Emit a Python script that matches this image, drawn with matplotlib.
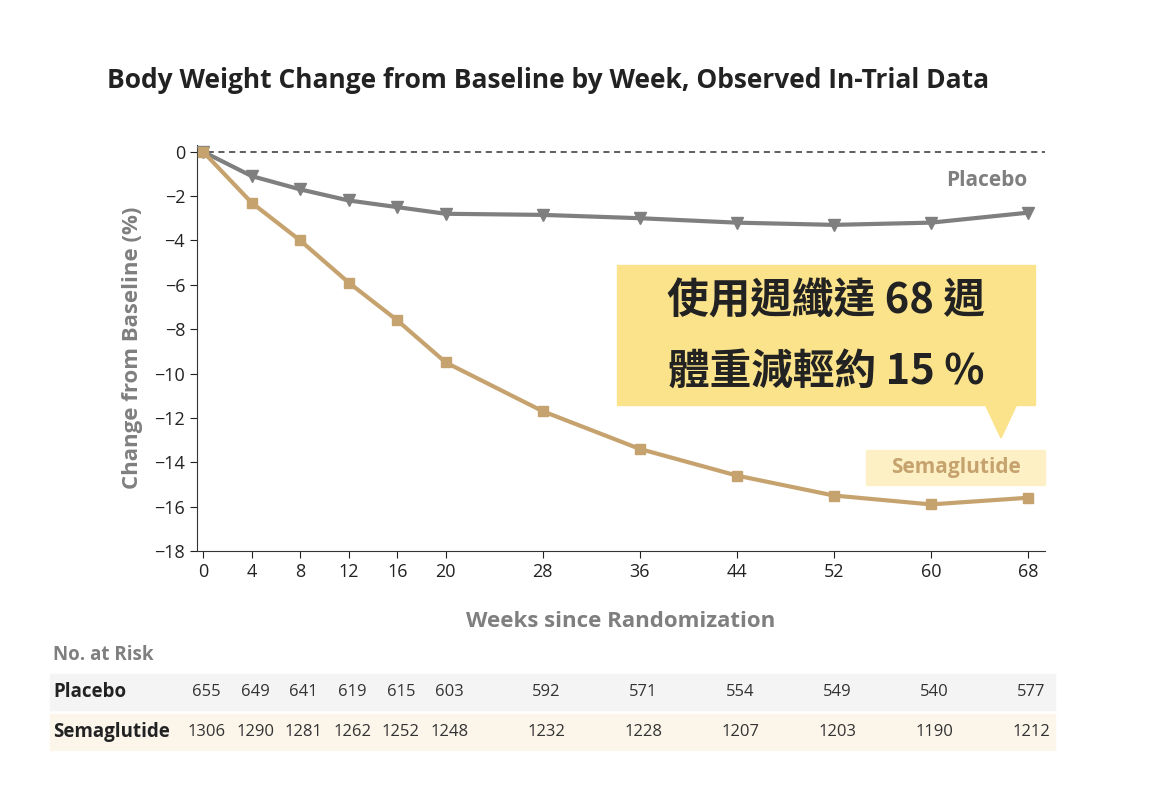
import matplotlib
matplotlib.use("Agg")
import matplotlib.pyplot as plt
from matplotlib.patches import Rectangle, Polygon
from matplotlib.transforms import blended_transform_factory

plt.rcParams['font.family'] = ['Open Sans', 'Noto Sans CJK TC', 'DejaVu Sans']

weeks = [0, 4, 8, 12, 16, 20, 28, 36, 44, 52, 60, 68]
placebo = [0, -1.1, -1.7, -2.2, -2.5, -2.8, -2.85, -3.0, -3.2, -3.3, -3.2, -2.75]
sema = [0, -2.3, -4.0, -5.9, -7.6, -9.5, -11.7, -13.4, -14.6, -15.5, -15.9, -15.6]
risk_placebo = [655, 649, 641, 619, 615, 603, 592, 571, 554, 549, 540, 577]
risk_sema = [1306, 1290, 1281, 1262, 1252, 1248, 1232, 1228, 1207, 1203, 1190, 1212]
yticks = list(range(0, -19, -2))

W, H = 1164, 800
def P(x, y):
    return (x/W, 1-y/H)

fig = plt.figure(figsize=(W/100, H/100), dpi=100)
ax = fig.add_axes([197/W, 1-551/H, (1045-197)/W, (551-145)/H])
tan = '#C6A36E'; gray = '#7F7F7F'
ax.axhline(0, color='#333333', ls=(0, (4, 3)), lw=1.1, zorder=1)
ax.plot(weeks, placebo, color=gray, lw=3, marker='v', ms=9, zorder=3)
ax.plot(weeks, sema, color=tan, lw=3, marker='s', ms=7, zorder=3)
ax.set_xlim(-0.5, 69.4)
ax.set_ylim(-18, 0.3)
ax.set_xticks(weeks)
ax.set_yticks(yticks)
ax.set_yticklabels([str(v).replace('-', '−') for v in yticks])
for s in ['top', 'right']:
    ax.spines[s].set_visible(False)
for s in ['left', 'bottom']:
    ax.spines[s].set_color('#333333')
ax.tick_params(labelsize=13, colors='#222222', length=5)
ax.set_ylabel('Change from Baseline (%)', fontsize=16, fontweight='bold', color=gray, labelpad=8)
ax.set_xlabel('Weeks since Randomization', fontsize=16, fontweight='bold', color=gray, labelpad=22)

fig.text(*P(107, 80), 'Body Weight Change from Baseline by Week, Observed In-Trial Data',
         fontsize=19, fontweight='bold', color='#222222', va='center')
fig.text(*P(1027, 180), 'Placebo', fontsize=15, fontweight='bold', color=gray,
         ha='right', va='center')
fig.patches.append(Rectangle(P(866, 485), 179/W, 35/H, transform=fig.transFigure,
                             color='#FCF0C4', zorder=0))
fig.text(*P(956, 468), 'Semaglutide', fontsize=15, fontweight='bold', color=tan, ha='center', va='center')
yellow = '#FBE38B'
fig.patches.append(Rectangle(P(617, 405), 418/W, 140/H, transform=fig.transFigure,
                             color=yellow, zorder=5))
fig.patches.append(Polygon([P(985, 404), P(1017, 404), P(1001, 438)], closed=True,
                           transform=fig.transFigure, color=yellow, zorder=5))
fig.text(*P(826, 302), '使用週纖達 68 週', fontsize=30, fontweight='bold', color='#222222',
         ha='center', va='center', zorder=6, family=['Noto Sans CJK TC', 'DejaVu Sans'])
fig.text(*P(826, 372), '體重減輕約 15 %', fontsize=30, fontweight='bold', color='#222222',
         ha='center', va='center', zorder=6, family=['Noto Sans CJK TC', 'DejaVu Sans'])

# risk table
fig.text(*P(53, 655), 'No. at Risk', fontsize=13.5, fontweight='bold', color=gray, va='center')
fig.patches.append(Rectangle(P(50, 710), 1005/W, 36/H, transform=fig.transFigure, color='#F4F4F4', zorder=0))
fig.patches.append(Rectangle(P(50, 750), 1005/W, 36/H, transform=fig.transFigure, color='#FBF5EA', zorder=0))
tr = blended_transform_factory(ax.transData, fig.transFigure)
fig.text(*P(53, 692), 'Placebo', fontsize=13.5, fontweight='bold', color='#222222', va='center')
fig.text(*P(53, 732), 'Semaglutide', fontsize=13.5, fontweight='bold', color='#222222', va='center')
for w, a, b in zip(weeks, risk_placebo, risk_sema):
    fig.text(w + 0.3, 1-692/H, str(a), transform=tr, fontsize=12, color='#333333', ha='center', va='center')
    fig.text(w + 0.3, 1-732/H, str(b), transform=tr, fontsize=12, color='#333333', ha='center', va='center')

fig.savefig('out.png', dpi=100, facecolor='white')
